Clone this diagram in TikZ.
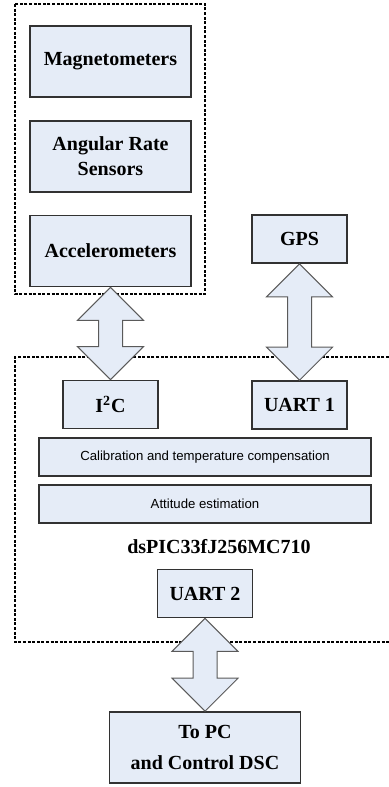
\documentclass[tikz,border=0pt]{standalone}
\usepackage{fontspec}
\setmainfont{Liberation Serif}
\newfontfamily\arialfont{Liberation Sans}
\usetikzlibrary{calc}

\definecolor{boxfill}{RGB}{229,236,247}
\definecolor{boxline}{RGB}{50,50,50}
\definecolor{arrowline}{RGB}{90,90,90}

% block arrow with a head at both ends, from (#1.south) down to (#2.north)
\newcommand{\dblarrow}[2]{%
  \draw[blockarrow] (#1.south) -- ++(33,33) -- ++(-21,0)
    -- ($(#2.north)+(12,-33)$) -- ++(21,0) -- (#2.north)
    -- ++(-33,-33) -- ++(21,0) -- ($(#1.south)+(-12,33)$)
    -- ++(-21,0) -- cycle;}

\begin{document}
\begin{tikzpicture}[x=0.5pt,y=-0.5pt]
        \tikzstyle{unit}=[rectangle,draw=boxline,line width=0.8pt,fill=boxfill,
          font=\fontsize{10}{12.5}\selectfont\bfseries,align=center,inner sep=0pt]
        \tikzstyle{bigunit}=[unit,minimum width=80.5pt,minimum height=35.5pt]
        \tikzstyle{port}=[unit,minimum width=47.5pt,minimum height=24pt]
        \tikzstyle{task}=[unit,font=\arialfont\fontsize{6.6}{8}\selectfont,
          minimum width=166pt,minimum height=19pt]
        \tikzstyle{blockarrow}=[draw=arrowline,line width=0.5pt,fill=boxfill,line join=miter]
        \tikzstyle{group}=[draw=black,line width=0.7pt,dash pattern=on 1.5pt off 0.8pt]
        \useasboundingbox (0,0) rectangle (389,787);
       % sensor board
       \begin{scope}
         \node [bigunit] (mag) at (110.5,61.5) {Magnetometers};
         \node [bigunit] (gyro) at (110.5,156.5) {Angular Rate\\Sensors};
         \node [bigunit] (acc) at (110.5,251) {Accelerometers};
         \draw [group] (15,4) rectangle (205,294);
        \end{scope}
         \node [port] (gps) at (299.5,239) {GPS};
       % processor
       \begin{scope}
         \draw [group] (389,357) -- (15,357) -- (15,642) -- (389,642);
         \node [port] (i2c) at (110.5,404.5) {I\textsuperscript{2}C};
         \node [port] (uart1) at (299.5,405) {UART 1};
         \node [task] (calib) at (205,457) {Calibration and temperature compensation};
         \node [task] (att) at (205,504) {Attitude estimation};
         \node [font=\fontsize{10}{12}\selectfont\bfseries] (cpu) at (219,547) {dsPIC33fJ256MC710};
         \node [port] (uart2) at (205,593.5) {UART 2};
        \end{scope}
         \node [bigunit,minimum width=95.5pt] (pc) at (205,747.5) {To PC\\[3pt]and Control DSC};
         \dblarrow{acc}{i2c}
         \dblarrow{gps}{uart1}
         \dblarrow{uart2}{pc}
      \end{tikzpicture}
\end{document}
